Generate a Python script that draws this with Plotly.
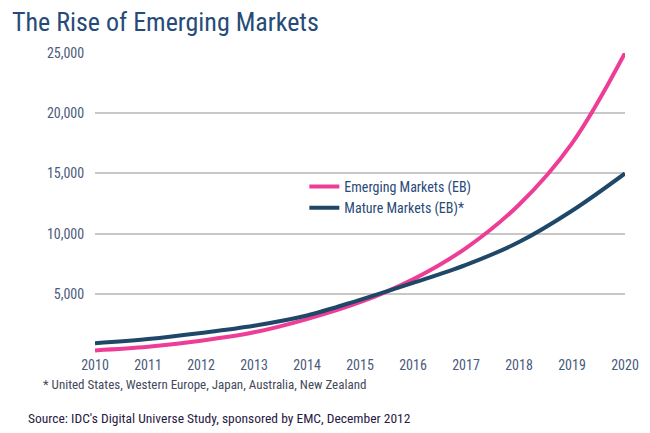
import plotly.graph_objects as go

years = [2010, 2011, 2012, 2013, 2014, 2015, 2016, 2017, 2018, 2019, 2020]
emerging = [300, 600, 1100, 1800, 2900, 4300, 6200, 8800, 12400, 17500, 25000]
mature = [900, 1250, 1750, 2350, 3200, 4500, 5900, 7400, 9300, 11900, 15000]
y_ticks = [5000, 10000, 15000, 20000, 25000]
y_tick_labels = ["5,000", "10,000", "15,000", "20,000", "25,000"]

NARROW = "Roboto Condensed, Liberation Sans Narrow, Arial Narrow, Liberation Sans, sans-serif"
PINK = "#ee3d97"
NAVY = "#1f4868"
TICK = "#4b5b7c"

fig = go.Figure()
fig.add_trace(go.Scatter(x=years, y=emerging, mode="lines", name="Emerging Markets (EB)",
                         line=dict(color=PINK, width=4, shape="spline", smoothing=1.0)))
fig.add_trace(go.Scatter(x=years, y=mature, mode="lines", name="Mature Markets (EB)*",
                         line=dict(color=NAVY, width=4, shape="spline", smoothing=1.0)))

fig.update_layout(
    width=650, height=433,
    paper_bgcolor="white", plot_bgcolor="white",
    margin=dict(l=87, r=33, t=45, b=87),
    title=dict(text="The Rise of Emerging Markets", x=0.006, xanchor="left", y=0.968, yanchor="middle",
               font=dict(family=NARROW, size=26, color="#264b78")),
    xaxis=dict(range=[2010, 2020], tickmode="array", tickvals=years, ticktext=[str(y) for y in years],
               showgrid=False, zeroline=False, showline=False,
               tickfont=dict(family=NARROW, size=14, color=TICK), ticks="", ticklabelstandoff=1),
    yaxis=dict(range=[0, 25000], tickmode="array", tickvals=[0] + y_ticks, ticktext=[""] + y_tick_labels,
               showgrid=True, gridcolor="#c8c8c8", gridwidth=2, zeroline=False, showline=False,
               tickfont=dict(family=NARROW, size=14, color=TICK), ticks="outside", ticklen=7,
               tickcolor="rgba(0,0,0,0)", layer="below traces"),
    legend=dict(x=0.395, y=0.52, xanchor="left", yanchor="middle", bgcolor="rgba(255,255,255,0)",
                font=dict(family=NARROW, size=14, color="#2a4a78"), tracegroupgap=2, itemwidth=30),
    showlegend=True,
)
fig.update_traces(cliponaxis=False)

fig.add_annotation(text="* United States, Western Europe, Japan, Australia, New Zealand",
                   xref="paper", yref="paper", x=-0.102, y=-0.10, xanchor="left", yanchor="middle",
                   showarrow=False, font=dict(family=NARROW, size=13, color="#444a5a"))
fig.add_annotation(text="Source: IDC's Digital Universe Study, sponsored by EMC, December 2012",
                   xref="paper", yref="paper", x=-0.1305, y=-0.212, xanchor="left", yanchor="middle",
                   showarrow=False, font=dict(family=NARROW, size=13.5, color="#2a1a45"))

fig.write_html("out.html")
